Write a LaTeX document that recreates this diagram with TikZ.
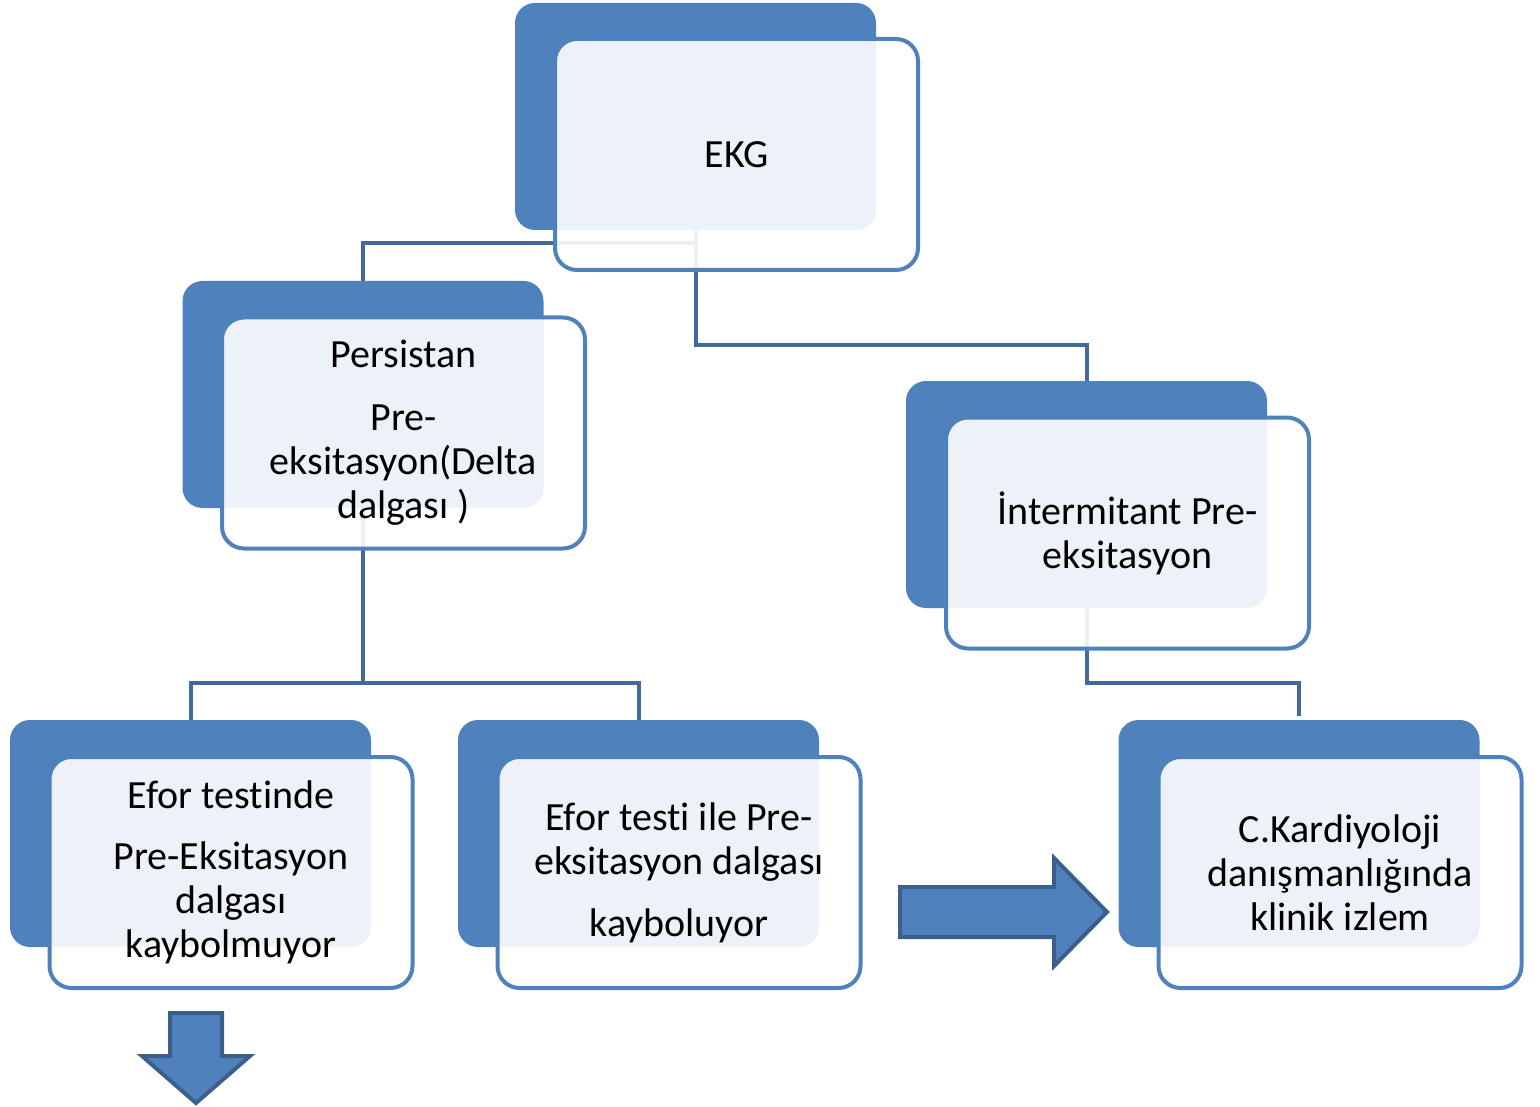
\documentclass[tikz,border=0pt]{standalone}
\usepackage{fontspec}
\setmainfont{Carlito}[Ligatures={NoCommon}]
\usetikzlibrary{calc}
\definecolor{boxblue}{HTML}{4F81BD}
\definecolor{linkblue}{HTML}{41699D}
\definecolor{arrowedge}{HTML}{3A5F8B}
\begin{document}
\begin{tikzpicture}[x=1pt,y=-1pt,
  backbox/.style={minimum width=361pt,minimum height=227pt,inner sep=0pt,rounded corners=20pt,fill=boxblue},
  frontbox/.style={minimum width=363pt,minimum height=231pt,inner sep=0pt,rounded corners=22pt,draw=boxblue,line width=4pt,fill=white,fill opacity=0.9,text opacity=1,align=center,font=\fontsize{40}{44}\selectfont},
  link/.style={draw=linkblue,line width=4pt},
  blockarrow/.style={fill=boxblue,draw=arrowedge,line width=4pt,line join=miter}]
\useasboundingbox (0,0) rectangle (1540,1107);
% back boxes
\node[backbox] (ekgB) at (695.5,116.5) {};
\node[backbox] (perB) at (363,394.5) {};
\node[backbox] (intB) at (1086.5,494.5) {};
\node[backbox] (e1B) at (190.5,833.5) {};
\node[backbox] (e2B) at (638.5,833.5) {};
\node[backbox] (ckB) at (1299,833.5) {};
% connectors
\draw[link] (ekgB.south) -- ++(0,13) -| (perB.north);
\draw[link] (ekgB.south) -- ++(0,115) -| (intB.north);
\draw[link] (perB.south) -- ++(0,175) -| (e1B.north);
\draw[link] (perB.south) -- ++(0,175) -| (e2B.north);
\draw[link] (intB.south) -- ++(0,75) -| ($(ckB.north)+(0,-4)$);
% front boxes
\node[frontbox] (ekgF) at (736.5,154.5) {EKG};
\node[frontbox] (perF) at (403.5,433) {Persistan\\[19pt]Pre-\\eksitasyon(Delta\\dalgası )};
\node[frontbox] (intF) at (1127.5,533) {İntermitant Pre-\\eksitasyon};
\node[frontbox] (e1F) at (231,872.5) {Efor testinde\\[17pt]Pre-Eksitasyon\\dalgası\\kaybolmuyor};
\node[frontbox] (e2F) at (679,872.5) {Efor testi ile Pre-\\eksitasyon dalgası\\[18pt]kayboluyor};
\node[frontbox] (ckF) at (1340,872.5) {C.Kardiyoloji\\danışmanlığında\\klinik izlem};
% block arrows
\draw[blockarrow] (900,887) -- (1054,887) -- (1054,858) -- (1107,912) -- (1054,966) -- (1054,937) -- (900,937) -- cycle;
\draw[blockarrow] (170,1013) -- (222,1013) -- (222,1056) -- (250,1056) -- (196,1103) -- (142,1056) -- (170,1056) -- cycle;
\end{tikzpicture}
\end{document}
